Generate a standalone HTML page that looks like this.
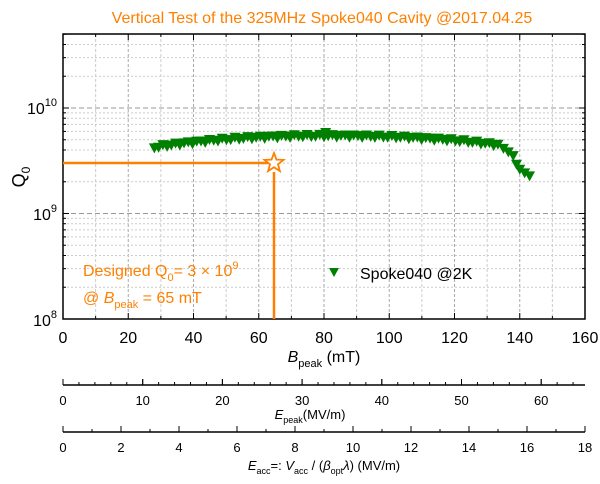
<!DOCTYPE html>
<html><head><meta charset="utf-8"><style>
body{margin:0;background:#fff}
svg text{font-family:"Liberation Sans",Arial,sans-serif}
</style></head><body>
<svg id="s" width="600" height="479" xmlns="http://www.w3.org/2000/svg">
<text x="322" y="23" font-size="16" fill="#ff8000" text-anchor="middle">Vertical Test of the 325MHz Spoke040 Cavity @2017.04.25</text>
<g id="grid"></g>
<g id="data"></g>
<rect x="63" y="34" width="522" height="285" fill="none" stroke="#000" stroke-width="1.5"/>
<g id="ax"></g>
<line x1="63" y1="163" x2="268" y2="163" stroke="#ff8000" stroke-width="2.5"/>
<line x1="274" y1="172" x2="274" y2="319" stroke="#ff8000" stroke-width="2.5"/>
<polygon id="star" fill="#fff" stroke="#ff8000" stroke-width="1.8"/>
<text x="83" y="276" font-size="16" fill="#ff8000">Designed Q<tspan font-size="11" dy="5">0</tspan><tspan dy="-5">= 3 × 10</tspan><tspan font-size="11" dy="-7">9</tspan></text>
<text x="83" y="303" font-size="16" fill="#ff8000">@ <tspan font-style="italic">B</tspan><tspan font-size="11" dy="5">peak</tspan><tspan dy="-5"> = 65 mT</tspan></text>
<polygon points="329,268 339,268 334,277" fill="#008000"/>
<text x="360" y="279" font-size="16">Spoke040 @2K</text>
<text x="25" y="177" font-size="18" transform="rotate(-90 25 177)" text-anchor="middle">Q<tspan font-size="12" dy="5">0</tspan></text>
<text x="324" y="362" font-size="16" text-anchor="middle"><tspan font-style="italic">B</tspan><tspan font-size="11" dy="5">peak</tspan><tspan dy="-5"> (mT)</tspan></text>
<text x="310" y="419" font-size="13" text-anchor="middle"><tspan font-style="italic">E</tspan><tspan font-size="9" dy="4">peak</tspan><tspan dy="-4">(MV/m)</tspan></text>
<text x="324" y="470" font-size="13" text-anchor="middle"><tspan font-style="italic">E</tspan><tspan font-size="9" dy="4">acc</tspan><tspan dy="-4">=: </tspan><tspan font-style="italic">V</tspan><tspan font-size="9" dy="4">acc</tspan><tspan dy="-4"> / (</tspan><tspan font-style="italic">β</tspan><tspan font-size="9" dy="4">opt</tspan><tspan dy="-4" font-style="italic">λ</tspan><tspan>) (MV/m)</tspan></text>
</svg>
<script>
const NS="http://www.w3.org/2000/svg";
function el(p,t,a,txt){const e=document.createElementNS(NS,t);for(const k in a)e.setAttribute(k,a[k]);if(txt!==undefined)e.textContent=txt;document.getElementById(p).appendChild(e);return e;}
const X=v=>63+v*3.2625, Y=q=>319-(Math.log10(q)-8)*105.5;
for(let v=10;v<160;v+=10){el("grid","line",{x1:X(v),x2:X(v),y1:34,y2:319,stroke:v%20?"#ccc":"#aaa","stroke-dasharray":"3,2","stroke-width":1});}
for(let d=8;d<=10;d++)for(let m=1;m<10;m++){const q=m*Math.pow(10,d);const y=Y(q);if(y<34||y>=319)continue;
 el("grid","line",{x1:63,x2:585,y1:y,y2:y,stroke:m==1?"#999":"#ccc","stroke-dasharray":m==1?"5,3":"2,2","stroke-width":1});
 const l=m==1?6:3;el("ax","line",{x1:63,x2:63+l,y1:y,y2:y,stroke:"#000"});el("ax","line",{x1:585-l,x2:585,y1:y,y2:y,stroke:"#000"});}
for(let v=0;v<=160;v+=10){const l=v%20?3:6;el("ax","line",{x1:X(v),x2:X(v),y1:319,y2:319-l,stroke:"#000"});el("ax","line",{x1:X(v),x2:X(v),y1:34,y2:34+l,stroke:"#000"});
 if(v%20==0)el("ax","text",{x:X(v),y:343,"font-size":16,"text-anchor":"middle"},v);}
[[10,108],[9,214],[8,320]].forEach(([e,y])=>{const t=el("ax","text",{x:57,y:y+6,"font-size":16,"text-anchor":"end"});t.innerHTML='10<tspan font-size="11" dy="-8">'+e+'</tspan>';});
el("ax","line",{x1:63,x2:585,y1:385,y2:385,stroke:"#000","stroke-width":1.5});
for(let v=0;v<=65;v+=2){const x=63+v*7.97;el("ax","line",{x1:x,x2:x,y1:385,y2:385-(v%10?3:6),stroke:"#000"});}
for(let v=0;v<=60;v+=10){const x=63+v*7.97;el("ax","line",{x1:x,x2:x,y1:385,y2:379,stroke:"#000"});el("ax","text",{x:x,y:405,"font-size":13,"text-anchor":"middle"},v);}
el("ax","line",{x1:63,x2:585,y1:432,y2:432,stroke:"#000","stroke-width":1.5});
for(let v=0;v<=18;v++){const x=63+v*29;el("ax","line",{x1:x,x2:x,y1:432,y2:432-(v%2?3:6),stroke:"#000"});if(v%2==0)el("ax","text",{x:x,y:452,"font-size":13,"text-anchor":"middle"},v);}
const pts=[];
for(let b=28;b<=134;b+=1.3){let q;
 if(b<80)q=4.2e9+1.2e9*(1-Math.pow((80-b)/52,2));else q=5.4e9-1.0e9*Math.pow((b-80)/54,2.2);
 q*=1+0.03*Math.sin(b*1.7);pts.push([b,q]);}
pts.push([80.5,5.8e9],[135,4.1e9],[136.5,3.8e9],[138,3.5e9],[139,2.9e9],[140,2.6e9],[141.5,2.4e9],[143,2.25e9]);
pts.forEach(([b,q])=>{const x=X(b),y=Y(q);el("data","polygon",{points:`${x-5.5},${y-5} ${x+5.5},${y-5} ${x},${y+5}`,fill:"#008000"});});
const cx=274,cy=163,R=10,r=4.2;let s="";for(let i=0;i<10;i++){const a=-Math.PI/2+i*Math.PI/5,rr=i%2?r:R;s+=(cx+rr*Math.cos(a))+","+(cy+rr*Math.sin(a))+" ";}
document.getElementById("star").setAttribute("points",s);
</script>
</body></html>
